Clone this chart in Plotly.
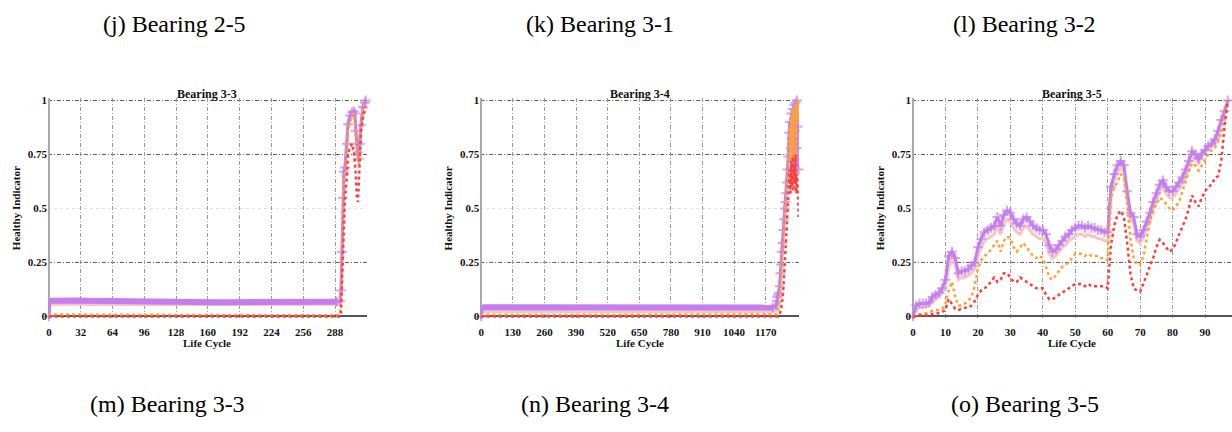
import plotly.graph_objects as go

# ---------------- data ----------------
# Bearing 3-3
b33_x = [0, 1, 10, 20, 30, 40, 50, 60, 70, 80, 90, 100, 110, 120, 130, 140, 150,
         160, 170, 180, 190, 200, 210, 220, 230, 240, 250, 260, 270, 280, 290,
         293, 294, 295, 296, 297, 298, 300, 301, 303, 305, 307, 308, 309, 310,
         311, 312, 313, 314, 316, 318, 319]
b33_purple = [0.0, 0.072, 0.074, 0.075, 0.074, 0.072, 0.071, 0.070, 0.070, 0.069, 0.069,
              0.068, 0.068, 0.068, 0.067, 0.067, 0.067, 0.067, 0.066, 0.066, 0.066,
              0.066, 0.066, 0.066, 0.066, 0.066, 0.066, 0.066, 0.066, 0.067, 0.068,
              0.07, 0.12, 0.30, 0.55, 0.67, 0.69, 0.80, 0.89, 0.93, 0.945, 0.95, 0.94,
              0.86, 0.80, 0.76, 0.73, 0.80, 0.885, 0.97, 0.99, 1.0]
b33_pink = [0.0, 0.055, 0.056, 0.057, 0.056, 0.055, 0.055, 0.054, 0.054, 0.054, 0.053,
            0.053, 0.053, 0.053, 0.053, 0.053, 0.053, 0.053, 0.053, 0.053, 0.053,
            0.053, 0.053, 0.053, 0.053, 0.053, 0.053, 0.053, 0.053, 0.053, 0.054,
            0.056, 0.10, 0.28, 0.52, 0.65, 0.68, 0.78, 0.87, 0.91, 0.93, 0.94, 0.92,
            0.84, 0.78, 0.74, 0.72, 0.78, 0.87, 0.96, 0.98, 1.0]
b33_orange = [0.0, 0.008, 0.009, 0.010, 0.009, 0.008, 0.008, 0.007, 0.007, 0.007, 0.006,
              0.006, 0.006, 0.006, 0.006, 0.005, 0.005, 0.005, 0.005, 0.005, 0.005,
              0.005, 0.005, 0.005, 0.005, 0.005, 0.005, 0.005, 0.005, 0.005, 0.005,
              0.01, 0.08, 0.30, 0.50, 0.63, 0.66, 0.76, 0.86, 0.90, 0.93, 0.94, 0.90,
              0.82, 0.76, 0.72, 0.70, 0.78, 0.87, 0.96, 0.98, 1.0]
b33_red = [0.0, 0.0, 0.001, 0.001, 0.001, 0.001, 0.001, 0.001, 0.001, 0.001, 0.001,
           0.001, 0.001, 0.001, 0.001, 0.001, 0.001, 0.001, 0.001, 0.001, 0.001,
           0.001, 0.001, 0.001, 0.001, 0.001, 0.001, 0.001, 0.001, 0.001, 0.001,
           0.0, 0.02, 0.15, 0.35, 0.42, 0.55, 0.65, 0.75, 0.78, 0.80, 0.76, 0.72,
           0.65, 0.55, 0.53, 0.62, 0.75, 0.85, 0.92, 0.95, 0.97]
b33_flat_end = 30   # index of the last point before the rise

# Bearing 3-4
b34_x = [0, 5, 50, 100, 150, 200, 250, 300, 350, 400, 450, 500, 550, 600, 650, 700,
         750, 800, 850, 900, 950, 1000, 1050, 1100, 1150, 1200,
         1212, 1215, 1218, 1221, 1224, 1227, 1230, 1233, 1236, 1239, 1242, 1245,
         1248, 1251, 1254, 1257, 1260, 1263, 1266, 1269, 1272, 1275, 1278, 1281,
         1284, 1287, 1290, 1293, 1296, 1299, 1302, 1305]
b34_purple = [0.0, 0.042, 0.042, 0.041, 0.041, 0.040, 0.040, 0.040, 0.040, 0.040, 0.039,
              0.039, 0.039, 0.039, 0.039, 0.039, 0.039, 0.039, 0.039, 0.040, 0.040,
              0.040, 0.040, 0.040, 0.040, 0.041,
              0.05, 0.07, 0.09, 0.10, 0.11, 0.14, 0.20, 0.24, 0.30, 0.34, 0.40, 0.45,
              0.50, 0.53, 0.57, 0.62, 0.68, 0.74, 0.85, 0.90, 0.78, 0.94, 0.82, 0.96,
              0.72, 0.98, 0.86, 0.99, 0.78, 1.0, 0.88, 0.68]
b34_pink = [0.0, 0.024, 0.023, 0.023, 0.022, 0.022, 0.022, 0.022, 0.022, 0.022, 0.022,
            0.022, 0.022, 0.022, 0.022, 0.022, 0.022, 0.022, 0.022, 0.022, 0.022,
            0.022, 0.022, 0.022, 0.022, 0.023,
            0.03, 0.05, 0.07, 0.09, 0.10, 0.13, 0.18, 0.22, 0.28, 0.32, 0.38, 0.43,
            0.48, 0.52, 0.55, 0.60, 0.66, 0.72, 0.83, 0.88, 0.76, 0.92, 0.80, 0.94,
            0.70, 0.96, 0.84, 0.97, 0.76, 0.98, 0.86, 0.66]
b34_orange = [0.0, 0.008, 0.008, 0.007, 0.007, 0.007, 0.007, 0.007, 0.007, 0.007, 0.007,
              0.007, 0.007, 0.007, 0.007, 0.007, 0.007, 0.007, 0.007, 0.007, 0.007,
              0.007, 0.007, 0.007, 0.007, 0.007,
              0.01, 0.015, 0.02, 0.03, 0.05, 0.08, 0.12, 0.18, 0.24, 0.30, 0.36, 0.41,
              0.46, 0.50, 0.54, 0.60, 0.66, 0.72, 0.82, 0.88, 0.72, 0.93, 0.78, 0.96,
              0.72, 0.97, 0.84, 0.99, 0.74, 1.0, 0.90, 0.95]
b34_red = [0.0, 0.0, 0.001, 0.001, 0.001, 0.001, 0.001, 0.001, 0.001, 0.001, 0.001,
           0.001, 0.001, 0.001, 0.001, 0.001, 0.001, 0.001, 0.001, 0.001, 0.001,
           0.001, 0.001, 0.001, 0.001, 0.001,
           0.0, 0.0, 0.0, 0.0, 0.005, 0.01, 0.02, 0.03, 0.05, 0.08, 0.12, 0.18,
           0.24, 0.28, 0.36, 0.42, 0.48, 0.55, 0.60, 0.68, 0.57, 0.72, 0.60, 0.74,
           0.58, 0.70, 0.62, 0.75, 0.57, 0.66, 0.60, 0.46]
b34_flat_end = 25

# Bearing 3-5 (one value per life cycle, 0..97)
b35_x = list(range(98))
b35_purple = [0.00, 0.05, 0.06, 0.06, 0.06, 0.065, 0.09, 0.10, 0.11, 0.13,
              0.17, 0.28, 0.30, 0.27, 0.20, 0.21, 0.21, 0.22, 0.235, 0.25,
              0.32, 0.36, 0.39, 0.40, 0.41, 0.42, 0.46, 0.42, 0.47, 0.49,
              0.48, 0.45, 0.43, 0.42, 0.45, 0.46, 0.44, 0.42, 0.41, 0.40,
              0.40, 0.38, 0.33, 0.30, 0.31, 0.33, 0.35, 0.37, 0.38, 0.40,
              0.41, 0.42, 0.42, 0.41, 0.42, 0.41, 0.41, 0.40, 0.40, 0.39,
              0.39, 0.60, 0.66, 0.70, 0.72, 0.70, 0.58, 0.48, 0.46, 0.38,
              0.37, 0.40, 0.44, 0.48, 0.53, 0.57, 0.61, 0.63, 0.60, 0.58,
              0.58, 0.60, 0.62, 0.645, 0.68, 0.72, 0.765, 0.75, 0.73, 0.755,
              0.77, 0.79, 0.80, 0.82, 0.86, 0.91, 0.95, 1.00]
b35_pink = [0.00, 0.03, 0.04, 0.04, 0.045, 0.05, 0.07, 0.08, 0.09, 0.11,
            0.14, 0.23, 0.26, 0.24, 0.17, 0.18, 0.18, 0.19, 0.20, 0.22,
            0.28, 0.32, 0.35, 0.36, 0.37, 0.38, 0.42, 0.38, 0.43, 0.45,
            0.44, 0.41, 0.39, 0.38, 0.41, 0.42, 0.40, 0.38, 0.37, 0.36,
            0.36, 0.34, 0.29, 0.27, 0.28, 0.30, 0.32, 0.33, 0.35, 0.36,
            0.37, 0.38, 0.38, 0.37, 0.38, 0.37, 0.37, 0.36, 0.36, 0.35,
            0.35, 0.57, 0.63, 0.67, 0.69, 0.67, 0.55, 0.45, 0.43, 0.35,
            0.34, 0.37, 0.41, 0.45, 0.50, 0.54, 0.58, 0.60, 0.57, 0.55,
            0.55, 0.57, 0.59, 0.62, 0.65, 0.69, 0.74, 0.73, 0.71, 0.74,
            0.76, 0.78, 0.79, 0.80, 0.84, 0.89, 0.94, 1.00]
b35_orange = [0.00, 0.005, 0.01, 0.01, 0.015, 0.02, 0.025, 0.03, 0.03, 0.035,
              0.06, 0.12, 0.16, 0.09, 0.05, 0.05, 0.06, 0.07, 0.09, 0.14,
              0.22, 0.26, 0.28, 0.29, 0.31, 0.33, 0.35, 0.30, 0.35, 0.37,
              0.36, 0.32, 0.30, 0.32, 0.34, 0.32, 0.30, 0.28, 0.27, 0.28,
              0.27, 0.23, 0.18, 0.17, 0.19, 0.21, 0.23, 0.24, 0.25, 0.27,
              0.29, 0.29, 0.29, 0.28, 0.29, 0.28, 0.28, 0.28, 0.27, 0.27,
              0.26, 0.55, 0.60, 0.62, 0.66, 0.64, 0.52, 0.36, 0.27, 0.24,
              0.24, 0.28, 0.36, 0.44, 0.49, 0.52, 0.55, 0.54, 0.52, 0.50,
              0.49, 0.51, 0.53, 0.58, 0.63, 0.67, 0.71, 0.70, 0.675, 0.70,
              0.73, 0.75, 0.77, 0.78, 0.81, 0.85, 0.92, 1.00]
b35_red = [0.00, 0.00, 0.005, 0.005, 0.005, 0.01, 0.01, 0.015, 0.015, 0.02,
           0.03, 0.08, 0.06, 0.035, 0.03, 0.035, 0.04, 0.04, 0.05, 0.07,
           0.10, 0.12, 0.13, 0.14, 0.16, 0.18, 0.16, 0.17, 0.20, 0.20,
           0.18, 0.16, 0.16, 0.18, 0.17, 0.16, 0.15, 0.14, 0.13, 0.13,
           0.13, 0.10, 0.08, 0.08, 0.09, 0.10, 0.11, 0.12, 0.13, 0.14,
           0.15, 0.15, 0.15, 0.14, 0.15, 0.14, 0.14, 0.14, 0.14, 0.14,
           0.13, 0.33, 0.42, 0.47, 0.49, 0.46, 0.34, 0.20, 0.13, 0.12,
           0.115, 0.15, 0.19, 0.235, 0.27, 0.32, 0.355, 0.34, 0.32, 0.30,
           0.31, 0.34, 0.38, 0.42, 0.45, 0.50, 0.56, 0.53, 0.51, 0.55,
           0.58, 0.60, 0.61, 0.64, 0.65, 0.72, 0.88, 1.00]
b35_flat_end = 0

y_ticks = [0, 0.25, 0.5, 0.75, 1]
y_tick_text = ["0", "0.25", "0.5", "0.75", "1"]
b33_ticks = [0, 32, 64, 96, 128, 160, 192, 224, 256, 288]
b34_ticks = [0, 130, 260, 390, 520, 650, 780, 910, 1040, 1170]
b35_ticks = [0, 10, 20, 30, 40, 50, 60, 70, 80, 90]

top_captions = ["(j) Bearing 2-5", "(k) Bearing 3-1", "(l) Bearing 3-2"]
bottom_captions = ["(m) Bearing 3-3", "(n) Bearing 3-4", "(o) Bearing 3-5"]

# ---------------- styling ----------------
W, H = 1232, 432
SERIF = "Liberation Serif"
C_PURPLE = "#c47ef0"
C_PINK = "#f7c4c4"
C_ORANGE = "#ffa233"
C_RED = "#ff3d3d"
GRID_DASH = "4px,2px,1px,2px"


def fx(p):
    return p / W


def fy(p):
    return 1 - p / H


panels = [
    dict(title="Bearing 3-3", x=b33_x,
         ys=(b33_pink, b33_purple, b33_orange, b33_red), flat=b33_flat_end,
         xr=[-1, 320], dom=(46.0, 365.4), ticks=b33_ticks),
    dict(title="Bearing 3-4", x=b34_x,
         ys=(b34_pink, b34_purple, b34_orange, b34_red), flat=b34_flat_end,
         xr=[-4, 1306], dom=(479.0, 798.1), ticks=b34_ticks),
    dict(title="Bearing 3-5", x=b35_x,
         ys=(b35_pink, b35_purple, b35_orange, b35_red), flat=b35_flat_end,
         xr=[-0.3, 98.3], dom=(911.5, 1232.0), ticks=b35_ticks),
]

Y_TOP, Y_BOT = 96.1, 320.5
fig = go.Figure()
annotations = []
shapes = []

for i, p in enumerate(panels, start=1):
    xa = "x" if i == 1 else f"x{i}"
    ya = "y" if i == 1 else f"y{i}"
    pink, purple, orange, red = p["ys"]
    n = p["flat"]
    fig.add_trace(go.Scatter(x=p["x"], y=pink, mode="lines", xaxis=xa, yaxis=ya,
                             line=dict(color=C_PINK, width=3), showlegend=False))
    # long steady stretch: densely sampled markers merge into a thick band
    if n > 0:
        fig.add_trace(go.Scatter(x=p["x"][1:n + 1], y=purple[1:n + 1], mode="lines",
                                 xaxis=xa, yaxis=ya,
                                 line=dict(color=C_PURPLE, width=6), showlegend=False))
    sizes = [7] * len(purple)
    for k in range(1, n):
        sizes[k] = 0
    fig.add_trace(go.Scatter(x=p["x"], y=purple, mode="lines+markers", xaxis=xa, yaxis=ya,
                             line=dict(color=C_PURPLE, width=3),
                             marker=dict(symbol="cross-thin", size=sizes,
                                         line=dict(color=C_PURPLE, width=2)),
                             cliponaxis=False, showlegend=False))
    fig.add_trace(go.Scatter(x=p["x"], y=orange, mode="lines", xaxis=xa, yaxis=ya,
                             line=dict(color=C_ORANGE, width=2.5, dash="dot"),
                             showlegend=False))
    fig.add_trace(go.Scatter(x=p["x"], y=red, mode="lines", xaxis=xa, yaxis=ya,
                             line=dict(color=C_RED, width=2.5, dash="dot"),
                             showlegend=False))

    x0, x1 = p["dom"]
    axis_x = dict(domain=[fx(x0), fx(x1)], range=p["xr"], anchor=ya,
                  tickmode="array", tickvals=p["ticks"],
                  ticktext=[str(t) for t in p["ticks"]],
                  showgrid=True, gridcolor="#9a9a9a", gridwidth=1, griddash=GRID_DASH,
                  zeroline=True, zerolinecolor="#a9a9a9", zerolinewidth=2,
                  showline=False, ticks="", ticklabelstandoff=5,
                  tickfont=dict(family=SERIF, size=11, color="#111", weight="bold"),
                  fixedrange=True)
    axis_y = dict(domain=[fy(Y_BOT), fy(Y_TOP)], range=[-0.01, 1.01], anchor=xa,
                  tickmode="array", tickvals=y_ticks, ticktext=y_tick_text,
                  showgrid=False, zeroline=True, zerolinecolor="#555555",
                  zerolinewidth=1.5, showline=False, ticks="", ticklabelstandoff=0,
                  tickfont=dict(family=SERIF, size=11, color="#111", weight="bold"),
                  fixedrange=True)
    fig.update_layout(**{("xaxis" if i == 1 else f"xaxis{i}"): axis_x,
                         ("yaxis" if i == 1 else f"yaxis{i}"): axis_y})

    # horizontal reference lines across the plot area
    for v in y_ticks[1:]:
        faint = v == 0.5
        shapes.append(dict(type="line", xref=f"{xa} domain", yref=ya,
                           x0=0, x1=1, y0=v, y1=v, layer="below",
                           line=dict(color="#dddddd" if faint else "#555555",
                                     width=1, dash="dot" if faint else GRID_DASH)))

    cx = (x0 + x1) / 2
    annotations.append(dict(text=f"<b>{p['title']}</b>", x=fx(cx), y=fy(92),
                            xref="paper", yref="paper", showarrow=False,
                            xanchor="center", yanchor="middle",
                            font=dict(family=SERIF, size=12, color="#111")))
    annotations.append(dict(text="<b>Life Cycle</b>", x=fx(cx), y=fy(345),
                            xref="paper", yref="paper", showarrow=False,
                            xanchor="center", yanchor="middle",
                            font=dict(family=SERIF, size=11, color="#111")))
    annotations.append(dict(text="<b>Healthy Indicator</b>", x=fx(x0 + 1 - 33), y=fy(208),
                            xref="paper", yref="paper", showarrow=False, textangle=-90,
                            xanchor="center", yanchor="middle",
                            font=dict(family=SERIF, size=11, color="#111")))

for text, cx in zip(top_captions, [173, 599, 1024]):
    annotations.append(dict(text=text, x=fx(cx), y=fy(20), xref="paper", yref="paper",
                            showarrow=False, xanchor="center", yanchor="middle",
                            font=dict(family=SERIF, size=24, color="#000")))
for text, cx in zip(bottom_captions, [166, 594, 1025]):
    annotations.append(dict(text=text, x=fx(cx), y=fy(408), xref="paper", yref="paper",
                            showarrow=False, xanchor="center", yanchor="middle",
                            font=dict(family=SERIF, size=24, color="#000")))

fig.update_layout(width=W, height=H, margin=dict(l=0, r=0, t=0, b=0),
                  paper_bgcolor="white", plot_bgcolor="white",
                  font=dict(family=SERIF),
                  annotations=annotations, shapes=shapes, showlegend=False)

fig.write_html("out.html", config={"displayModeBar": False})
